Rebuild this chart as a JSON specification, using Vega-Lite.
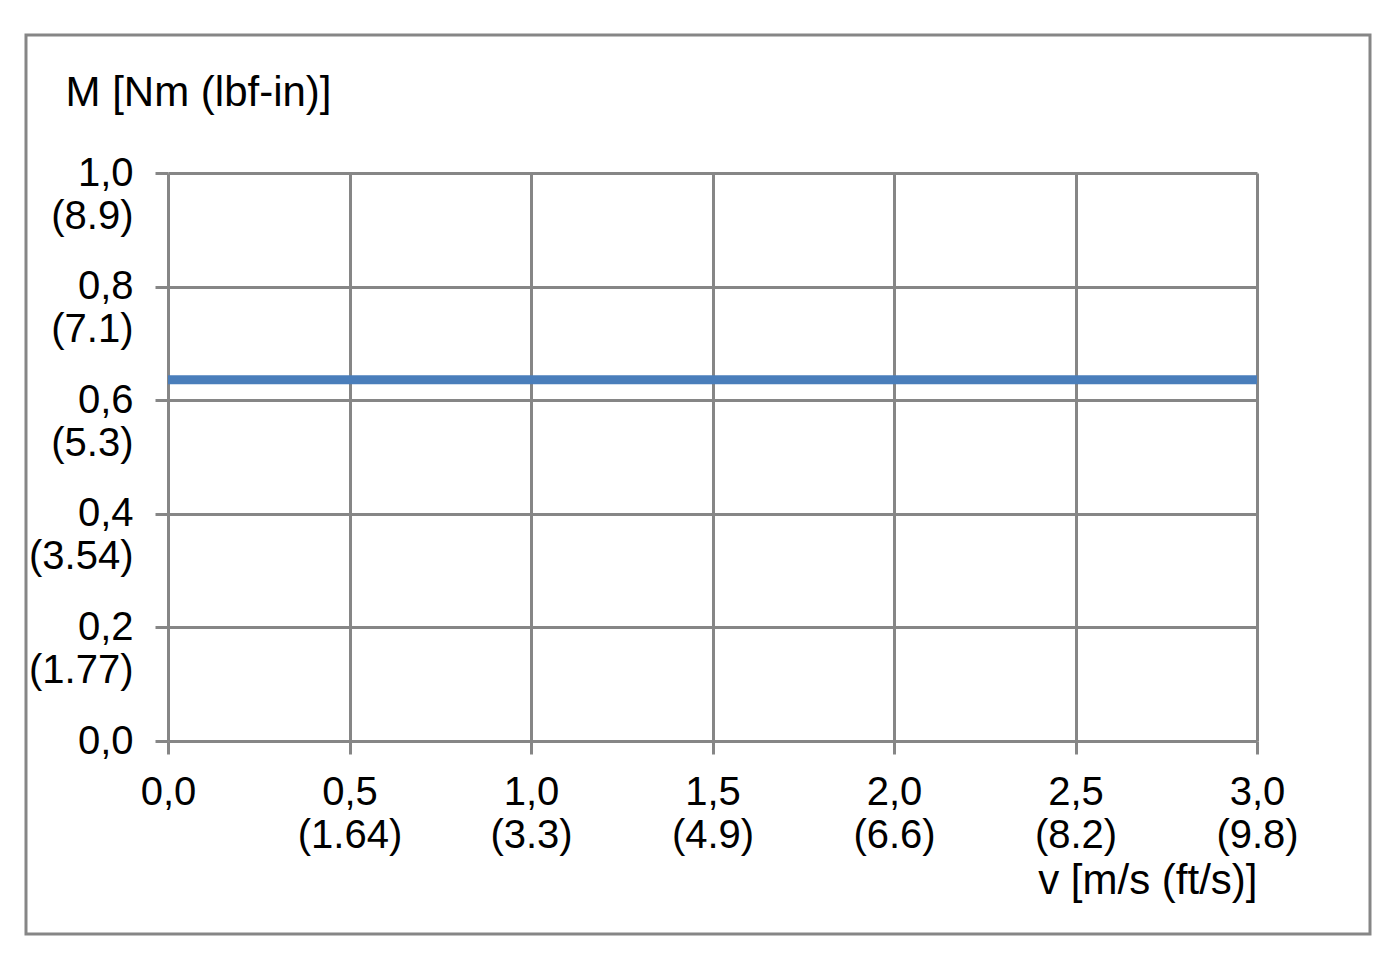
{
  "$schema": "https://vega.github.io/schema/vega-lite/v6.json",
  "autosize": {"type": "none"},
  "padding": {"left": 168, "top": 173, "right": 135, "bottom": 231},
  "width": 1089,
  "height": 568,
  "background": "white",
  "config": {
    "view": {"stroke": null},
    "font": "Liberation Sans",
    "axis": {
      "labelFont": "Liberation Sans",
      "titleFont": "Liberation Sans",
      "labelFontSize": 40,
      "titleFontSize": 42,
      "labelColor": "black",
      "titleColor": "black",
      "titleFontWeight": "normal",
      "labelLineHeight": 43,
      "gridColor": "#868686",
      "gridWidth": 3,
      "gridOpacity": 1,
      "tickColor": "#868686",
      "tickWidth": 3,
      "tickSize": 13,
      "domain": false,
      "labelLimit": 400,
      "labelOverlap": false,
      "labelFlush": false
    }
  },
  "datasets": {
    "series": [
      {"v": 0, "M": 0.636},
      {"v": 3, "M": 0.636}
    ],
    "frame": [
      {"x1": -0.3912, "x2": 3.3113, "y1": 1.243, "y2": -0.3398}
    ]
  },
  "layer": [
    {
      "data": {"name": "series"},
      "mark": {"type": "line", "color": "#4A7EBB", "strokeWidth": 9, "strokeCap": "butt", "clip": false},
      "encoding": {
        "x": {
          "field": "v",
          "type": "quantitative",
          "scale": {"domain": [0, 3], "nice": false, "zero": false},
          "axis": {
            "values": [0, 0.5, 1, 1.5, 2, 2.5, 3],
            "title": "v [m/s (ft/s)]",
            "titleAnchor": "end",
            "titleAlign": "right",
            "titleX": 1089,
            "titleY": 139,
            "titleBaseline": "middle",
            "labelPadding": 18,
            "labelBaseline": "top",
            "labelExpr": "datum.value == 0 ? '0,0' : datum.value == 0.5 ? ['0,5', '(1.64)'] : datum.value == 1 ? ['1,0', '(3.3)'] : datum.value == 1.5 ? ['1,5', '(4.9)'] : datum.value == 2 ? ['2,0', '(6.6)'] : datum.value == 2.5 ? ['2,5', '(8.2)'] : ['3,0', '(9.8)']"
          }
        },
        "y": {
          "field": "M",
          "type": "quantitative",
          "scale": {"domain": [0, 1], "nice": false, "zero": false},
          "axis": {
            "values": [0, 0.2, 0.4, 0.6, 0.8, 1.0],
            "title": "M [Nm (lbf-in)]",
            "titleAngle": 0,
            "titleAlign": "left",
            "titleAnchor": "start",
            "titleX": -103,
            "titleY": -81,
            "titleBaseline": "middle",
            "labelPadding": 22,
            "labelAlign": "right",
            "labelBaseline": "middle",
            "labelExpr": "datum.value == 0 ? ['0,0', ''] : datum.value < 0.3 ? ['0,2', '(1.77)'] : datum.value < 0.5 ? ['0,4', '(3.54)'] : datum.value < 0.7 ? ['0,6', '(5.3)'] : datum.value < 0.9 ? ['0,8', '(7.1)'] : ['1,0', '(8.9)']"
          }
        }
      }
    },
    {
      "data": {"name": "frame"},
      "mark": {"type": "rect", "fill": null, "stroke": "#868686", "strokeWidth": 3, "clip": false},
      "encoding": {
        "x": {"field": "x1", "type": "quantitative"},
        "x2": {"field": "x2"},
        "y": {"field": "y1", "type": "quantitative"},
        "y2": {"field": "y2"}
      }
    }
  ]
}
